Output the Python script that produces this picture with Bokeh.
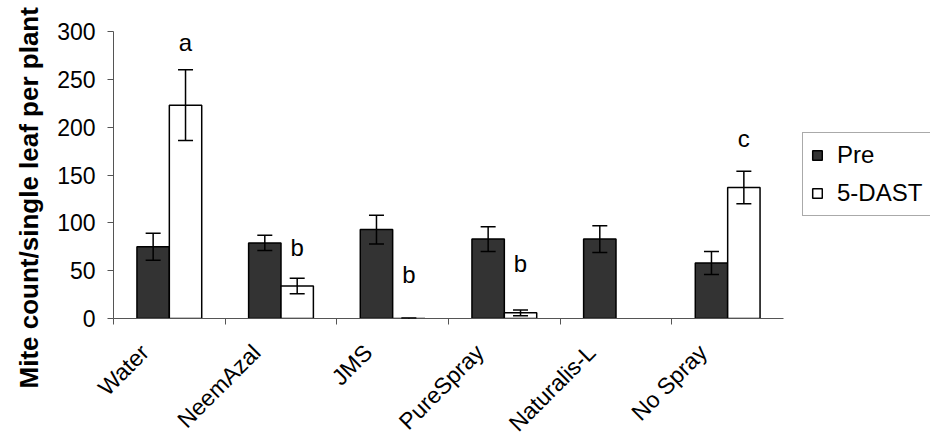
import numpy as np
from math import pi

from bokeh.plotting import figure
from bokeh.models import (ColumnDataSource, Range1d, FixedTicker, Whisker, TeeHead,
                          Legend, LegendItem, CustomJSTickFormatter, Title)
from bokeh.core.properties import value
from bokeh.embed import file_html
from bokeh.resources import INLINE

# Mite counts per treatment, before spraying and 5 days after spraying
treatments = ["Water", "NeemAzal", "JMS", "PureSpray", "Naturalis-L", "No Spray"]
pre = [75, 79, 93, 83, 83, 58]
pre_err = [14, 8, 15, 13, 14, 12]
dast = [223, 34, 0, 6, np.nan, 137]
dast_err = [37, 8, 0.5, 3, np.nan, 17]

# significance letters on the 5-DAST bars
letters = ["a", "b", "b", "b", "", "c"]
letter_y = [288, 74, 46, 57, np.nan, 188]

y_ticks = [0, 50, 100, 150, 200, 250, 300]
y_title = "Mite count/single leaf per plant"

FONT = "Liberation Sans"
AXIS_COLOR = "#555555"
OFFSET = 0.145
BAR_W = 0.29
LABEL_SHIFT = 0.22

W, H = 930, 448
LEFT, TOP, BOTTOM = 113, 31, 129
AXIS_END_PX = 783          # where the category axis stops; legend sits to its right
n = len(treatments)
x_end = n * (W - LEFT) / (AXIS_END_PX - LEFT)

idx = np.arange(n) + 0.5
pre_a = np.array(pre, dtype=float)
pre_e = np.array(pre_err, dtype=float)
dast_a = np.array(dast, dtype=float)
dast_e = np.array(dast_err, dtype=float)

src = ColumnDataSource(dict(
    idx=idx,
    xp=idx - OFFSET,
    xd=idx + OFFSET,
    pre=pre_a, pre_lo=pre_a - pre_e, pre_hi=pre_a + pre_e,
    dast=dast_a, dast_lo=dast_a - dast_e, dast_hi=dast_a + dast_e,
    letters=letters,
    letter_y=np.array(letter_y, dtype=float),
))

p = figure(width=W, height=H,
           x_range=Range1d(0, x_end), y_range=Range1d(0, 300),
           output_backend="svg", toolbar_location=None,
           min_border_left=LEFT, min_border_right=0,
           min_border_top=TOP, min_border_bottom=BOTTOM)
p.outline_line_color = None
p.xgrid.visible = False
p.ygrid.visible = False
p.background_fill_color = "white"
p.border_fill_color = "white"

r_pre = p.vbar(x="xp", top="pre", width=BAR_W, source=src,
               fill_color="#333333", line_color="black", line_width=1.5)
r_dast = p.vbar(x="xd", top="dast", width=BAR_W, source=src,
                fill_color="white", line_color="black", line_width=1.5)

for base, lo, hi in (("xp", "pre_lo", "pre_hi"), ("xd", "dast_lo", "dast_hi")):
    w = Whisker(base=base, lower=lo, upper=hi, source=src, level="overlay",
                line_color="black", line_width=1.5,
                upper_head=TeeHead(size=15, line_color="black", line_width=1.5),
                lower_head=TeeHead(size=15, line_color="black", line_width=1.5))
    p.add_layout(w)

p.text(x="xd", y="letter_y", text="letters", source=src,
       text_font=value(FONT), text_font_size="24px", text_color="black",
       text_align="center", text_baseline="middle")

# x axis: rotated names near category centres, ticks at category boundaries
xa = p.xaxis[0]
xa.bounds = (0, n)
xa.ticker = FixedTicker(ticks=list(idx - LABEL_SHIFT), minor_ticks=list(range(n)))
xa.formatter = CustomJSTickFormatter(args=dict(names=treatments),
                                     code="return names[Math.floor(tick)];")
xa.major_label_orientation = pi / 4
xa.major_tick_out = 0
xa.major_tick_in = 0
xa.minor_tick_out = 6
xa.minor_tick_in = 0
xa.minor_tick_line_color = AXIS_COLOR
xa.axis_line_color = AXIS_COLOR
xa.major_label_text_font = FONT
xa.major_label_text_font_size = "23px"
xa.major_label_text_color = "black"
xa.major_label_standoff = 24

ya = p.yaxis[0]
ya.ticker = FixedTicker(ticks=y_ticks, minor_ticks=[])
ya.major_tick_out = 6
ya.major_tick_in = 0
ya.major_tick_line_color = AXIS_COLOR
ya.axis_line_color = AXIS_COLOR
ya.major_label_text_font = FONT
ya.major_label_text_font_size = "23px"
ya.major_label_text_color = "black"
ya.major_label_standoff = 12

# vertical y title, starting below the plot area and running upwards
ytitle = Title(text=y_title, align="left", offset=-70, standoff=22,
               text_font=FONT, text_font_size="26px", text_font_style="bold",
               text_color="black")
p.add_layout(ytitle, "left")

legend = Legend(items=[LegendItem(label="Pre", renderers=[r_pre]),
                       LegendItem(label="5-DAST", renderers=[r_dast])],
                location=(689, 102), orientation="vertical")
legend.border_line_color = AXIS_COLOR
legend.border_line_width = 1
legend.background_fill_color = "white"
legend.background_fill_alpha = 1
legend.label_text_font = FONT
legend.label_text_font_size = "24px"
legend.label_text_color = "black"
legend.glyph_width = 12
legend.glyph_height = 12
legend.label_standoff = 14
legend.label_height = 24
legend.spacing = 10
legend.padding = 8
legend.margin = 0
p.add_layout(legend, "center")

open("out.html", "w").write(file_html(p, INLINE))
